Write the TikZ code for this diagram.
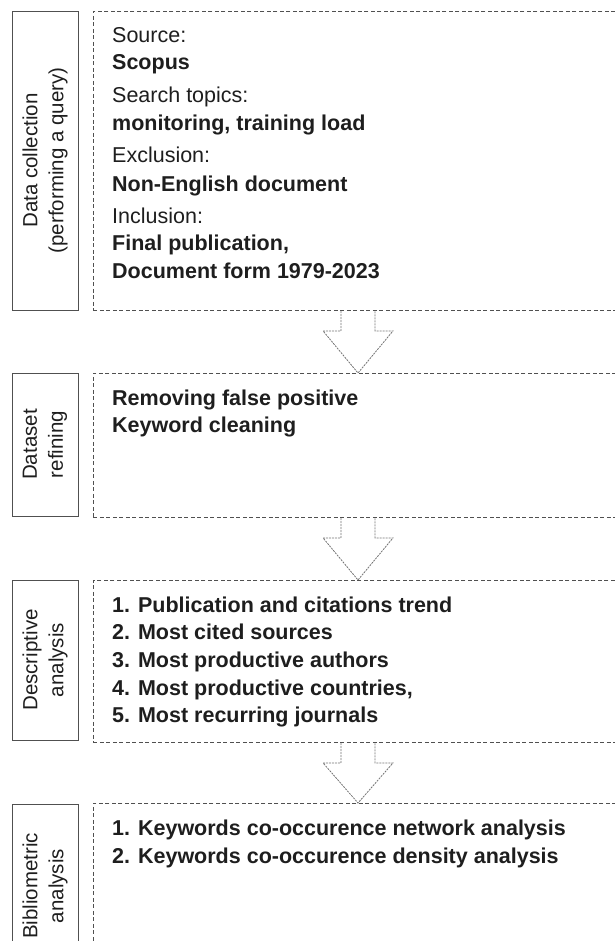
\documentclass[tikz,border=0pt]{standalone}
\usepackage{fontspec}
\setmainfont{Liberation Sans}
\usetikzlibrary{calc}
\definecolor{txt}{HTML}{1E1E1E}
\definecolor{ln}{HTML}{505050}
\begin{document}
\begin{tikzpicture}[x=1pt,y=-1pt,
  sbox/.style={draw=ln, line width=0.9pt, rotate=90, align=center, inner sep=0pt, font=\fontsize{20.5}{26}\selectfont, text=txt},
  dbox/.style={draw=ln, line width=0.9pt, dash pattern=on 4pt off 2.5pt, anchor=north west, inner sep=0pt},
  lbl/.style={anchor=base west, inner sep=0pt, font=\fontsize{21.5}{26}\selectfont, text=txt},
  bl/.style={anchor=base west, inner sep=0pt, font=\fontsize{21.5}{26}\selectfont\bfseries, text=txt},
  barrow/.style={draw=ln!80, line width=0.8pt, dash pattern=on 2pt off 1pt, line join=miter}]
\useasboundingbox (0,0) rectangle (614,941);
% left solid boxes
\node[sbox, minimum width=299, minimum height=66] (s1) at (45,160.5) {Data collection\\(performing a query)};
\node[sbox, minimum width=143, minimum height=66] (s2) at (45,444.5) {Dataset\\refining};
\node[sbox, minimum width=160, minimum height=66] (s3) at (45,660) {Descriptive\\analysis};
\node[sbox, minimum width=164, minimum height=66] (s4) at (45,886) {Bibliometric\\analysis};
% dashed content boxes
\node[dbox, minimum width=560, minimum height=299] (d1) at (93,11) {};
\node[dbox, minimum width=560, minimum height=144] (d2) at (93,373) {};
\node[dbox, minimum width=560, minimum height=162] (d3) at (93,580) {};
\node[dbox, minimum width=560, minimum height=170] (d4) at (93,803) {};
% block arrows
\coordinate (ax) at (358,0);
\foreach \a/\b in {d1/d2, d2/d3, d3/d4} {
  \draw[barrow] ($(ax |- \a.south)+(-17,0)$) -- ++(0,20) -- ++(-18,0) -- (ax |- \b.north)
    -- ($(ax |- \a.south)+(35,20)$) -- ++(-18,0) -- ++(0,-20);
}
% box 1 texts
\node[lbl] (t1) at (112,43) {Source:};
\node[bl] (t2) at (112,70) {Scopus};
\node[lbl] (t3) at (112,103) {Search topics:};
\node[bl] (t4) at (112,131) {monitoring, training load};
\node[lbl] (t5) at (112,163) {Exclusion:};
\node[bl] (t6) at (112,192) {Non-English document};
\node[lbl] (t7) at (112,224) {Inclusion:};
\node[bl] (t8) at (112,251) {Final publication,};
\node[bl] (t9) at (112,278) {Document form 1979-2023};
% box 2 texts
\node[bl] (r1) at (112,405) {Removing false positive};
\node[bl] (r2) at (112,432) {Keyword cleaning};
% box 3 texts
\node[bl] (e1) at (112,612) {1. Publication and citations trend};
\node[bl] (e2) at (112,639) {2. Most cited sources};
\node[bl] (e3) at (112,667) {3. Most productive authors};
\node[bl] (e4) at (112,695) {4. Most productive countries,};
\node[bl] (e5) at (112,722) {5. Most recurring journals};
% box 4 texts
\node[bl] (b1) at (112,835) {1. Keywords co-occurence network analysis};
\node[bl] (b2) at (112,863) {2. Keywords co-occurence density analysis};
\end{tikzpicture}
\end{document}
